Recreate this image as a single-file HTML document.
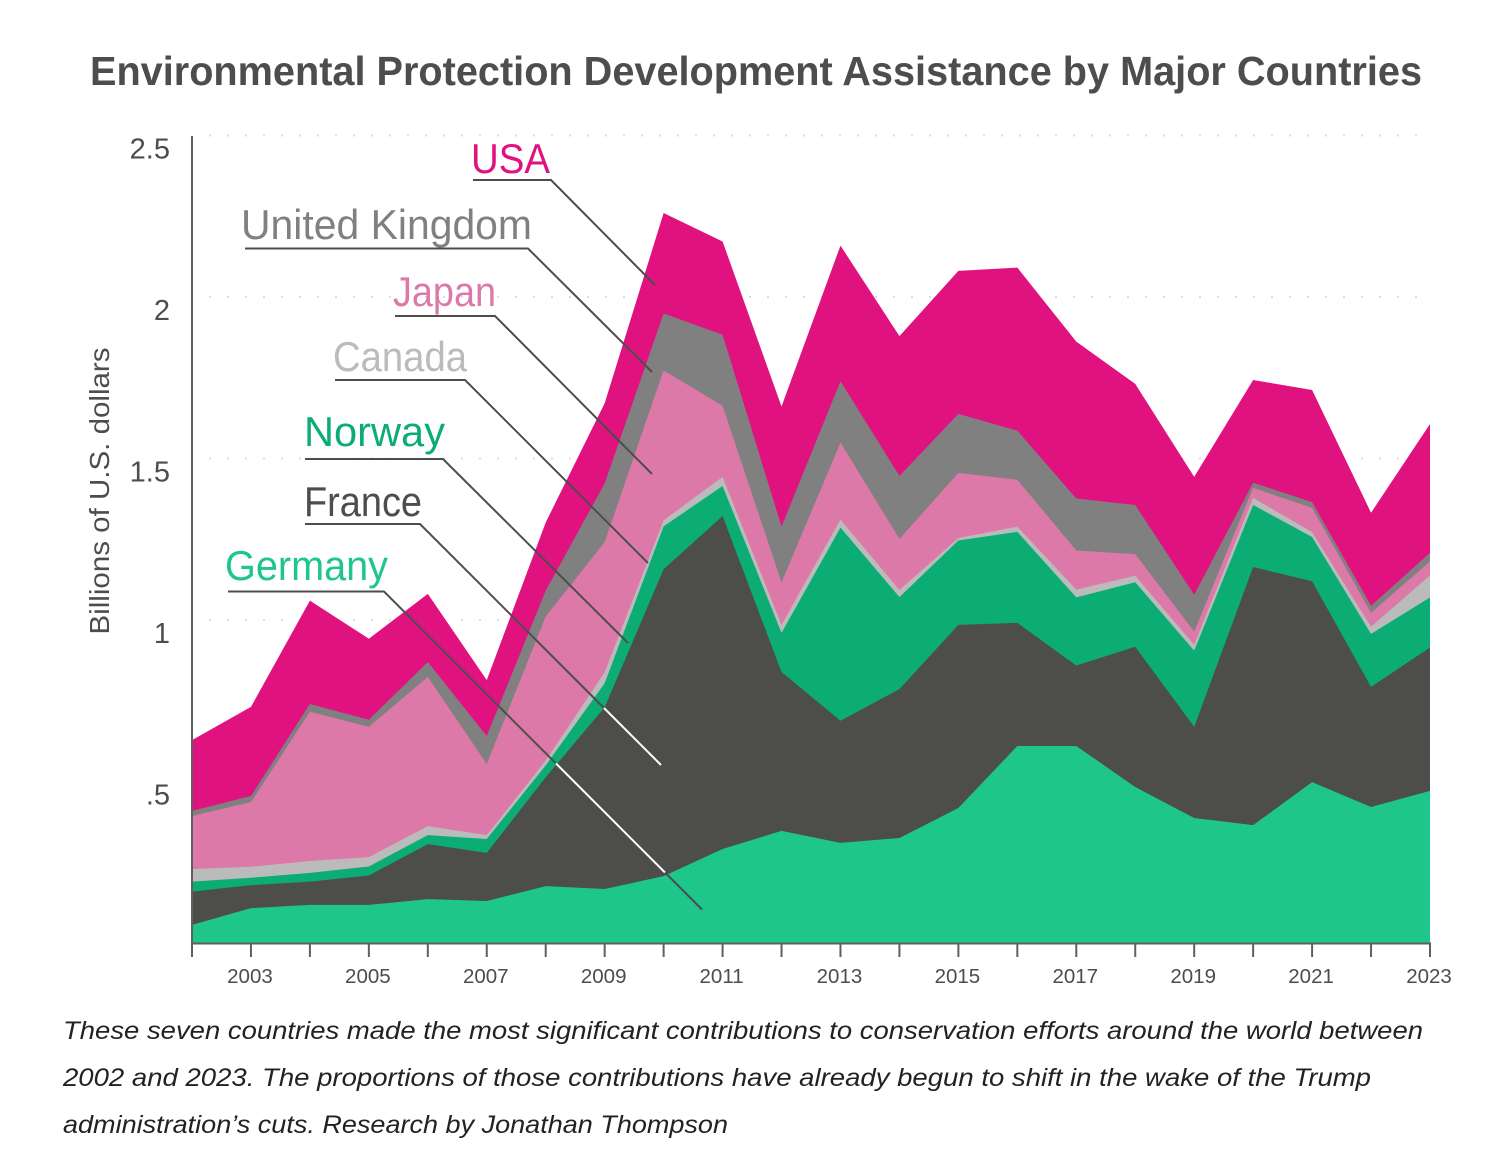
<!DOCTYPE html>
<html lang="en">
<head>
<meta charset="utf-8">
<title>Environmental Protection Development Assistance by Major Countries</title>
<style>
html,body{margin:0;padding:0;background:#fff;}
svg{display:block;font-family:"Liberation Sans",sans-serif;}
</style>
</head>
<body>
<svg id="chart" xmlns="http://www.w3.org/2000/svg" width="1500" height="1166" viewBox="0 0 1500 1166">
  <text x="90" y="85" font-size="41" font-weight="700" fill="#4d4d4d" textLength="1332" lengthAdjust="spacingAndGlyphs">Environmental Protection Development Assistance by Major Countries</text>
  <g id="grid"></g>
  <g id="areas"></g>
  <g id="axes"></g>
  <text transform="translate(109,491) rotate(-90)" text-anchor="middle" font-size="28" fill="#4d4d4d" textLength="287" lengthAdjust="spacingAndGlyphs">Billions of U.S. dollars</text>

  <g fill="none" stroke-width="2">
    <path d="M473 180H551L655 285" stroke="#4d4d4d"/>
    <path d="M245 248.500H528L652 372" stroke="#4d4d4d"/>
    <path d="M395 316H495L652 474" stroke="#4d4d4d"/>
    <path d="M335 380H465L648 563" stroke="#4d4d4d"/>
    <path d="M305 459H443L628 643" stroke="#4d4d4d"/>
    <path d="M305 524H420L604 708" stroke="#4d4d4d"/>
    <path d="M604 708L661 765" stroke="#ffffff"/>
    <path d="M228 591.500H384L556 763.500" stroke="#4d4d4d"/>
    <path d="M556 763.500L665 872.500" stroke="#ffffff"/>
    <path d="M665 872.500L702 909.500" stroke="#4d4d4d"/>
  </g>

  <g font-size="42">
    <text x="471" y="173" fill="#e0127f" textLength="79" lengthAdjust="spacingAndGlyphs">USA</text>
    <text x="241" y="239" fill="#808080" textLength="291" lengthAdjust="spacingAndGlyphs">United Kingdom</text>
    <text x="393" y="306" fill="#dc79a9" textLength="103" lengthAdjust="spacingAndGlyphs">Japan</text>
    <text x="333" y="371" fill="#bbbbbb" textLength="134" lengthAdjust="spacingAndGlyphs">Canada</text>
    <text x="304" y="446" fill="#0bad75" textLength="141" lengthAdjust="spacingAndGlyphs">Norway</text>
    <text x="304" y="516" fill="#4d4d4b" textLength="118" lengthAdjust="spacingAndGlyphs">France</text>
    <text x="225" y="580" fill="#1ec68c" textLength="163" lengthAdjust="spacingAndGlyphs">Germany</text>
  </g>

  <g font-size="25" font-style="italic" fill="#222">
    <text x="63" y="1039" textLength="1360" lengthAdjust="spacingAndGlyphs">These seven countries made the most significant contributions to conservation efforts around the world between</text>
    <text x="63" y="1086" textLength="1308" lengthAdjust="spacingAndGlyphs">2002 and 2023. The proportions of those contributions have already begun to shift in the wake of the Trump</text>
    <text x="63" y="1133" textLength="665" lengthAdjust="spacingAndGlyphs">administration’s cuts. Research by Jonathan Thompson</text>
  </g>
</svg>
<script>
const years = [2002,2003,2004,2005,2006,2007,2008,2009,2010,2011,2012,2013,2014,2015,2016,2017,2018,2019,2020,2021,2022,2023];
const germany = [.056,.108,.118,.118,.136,.130,.176,.167,.207,.291,.347,.310,.325,.418,.610,.610,.483,.387,.365,.498,.421,.471];
const france = [.103,.071,.072,.091,.170,.149,.337,.563,.950,1.031,.492,.378,.461,.567,.381,.249,.434,.282,.799,.622,.372,.444];
const norway = [.031,.023,.027,.028,.028,.043,.037,.074,.133,.093,.121,.598,.285,.261,.282,.211,.200,.236,.192,.137,.164,.155];
const canada = [.039,.034,.037,.029,.028,.012,.015,.034,.019,.028,.025,.025,.022,.008,.016,.024,.020,.018,.022,.015,.022,.068];
const japan = [.164,.200,.462,.403,.462,.220,.446,.403,.464,.220,.131,.238,.158,.201,.145,.121,.067,.041,.031,.075,.043,.043];
const uk = [.016,.019,.024,.022,.046,.087,.080,.182,.176,.220,.173,.190,.195,.183,.152,.161,.152,.114,.016,.018,.022,.027];
const usa = [.219,.276,.320,.251,.211,.173,.211,.248,.311,.289,.372,.420,.433,.443,.505,.486,.375,.365,.318,.347,.288,.399];
const yTickValues = [0.5,1,1.5,2,2.5];
const yTickLabels = [".5","1","1.5","2","2.5"];
const xTickLabels = ["2003","2005","2007","2009","2011","2013","2015","2017","2019","2021","2023"];

const NS = "http://www.w3.org/2000/svg";
const X0 = 192, X1 = 1430, Y0 = 943, PX_PER_UNIT = 323;
const xScale = function (year) { return X0 + (year - years[0]) * (X1 - X0) / (years[years.length - 1] - years[0]); };
const yScale = function (value) { return Y0 - value * PX_PER_UNIT; };

function make(tag, parent) {
  const el = document.createElementNS(NS, tag);
  parent.appendChild(el);
  return el;
}

const grid = document.getElementById("grid");
yTickValues.forEach(function (v) {
  const line = make("line", grid);
  
  
  line.setAttribute("x1", 209);
  line.setAttribute("x2", X1);
  line.setAttribute("y1", yScale(v));
  line.setAttribute("y2", yScale(v));
  line.setAttribute("stroke", "#dddddd");
  line.setAttribute("stroke-width", 2);
  line.setAttribute("stroke-dasharray", "2 16");
});

const seriesList = [
  { key: "germany", values: germany, color: "#1ec68c" },
  { key: "france", values: france, color: "#4d4d4b" },
  { key: "norway", values: norway, color: "#0bad75" },
  { key: "canada", values: canada, color: "#bbbbbb" },
  { key: "japan", values: japan, color: "#dc79a9" },
  { key: "uk", values: uk, color: "#808080" },
  { key: "usa", values: usa, color: "#e0127f" }
];
const running = years.map(function () { return 0; });
seriesList.forEach(function (s) {
  s.tops = s.values.map(function (v, i) { running[i] += v; return running[i]; });
});
const areas = document.getElementById("areas");
seriesList.slice().reverse().forEach(function (s) {
  const path = make("path", areas);
  let d = "M" + xScale(years[0]) + " " + Y0;
  s.tops.forEach(function (t, i) {
    d += "L" + xScale(years[i]).toFixed(2) + " " + yScale(t).toFixed(2);
  });
  d += "L" + xScale(years[years.length - 1]) + " " + Y0 + "Z";
  path.setAttribute("d", d);
  path.setAttribute("fill", s.color);
  
  
});

const axes = document.getElementById("axes");
const yAxis = make("line", axes);


yAxis.setAttribute("x1", X0);
yAxis.setAttribute("x2", X0);
yAxis.setAttribute("y1", 136);
yAxis.setAttribute("y2", 957);
yAxis.setAttribute("stroke", "#5f5f5f");
yAxis.setAttribute("stroke-width", 2);

const xAxis = make("line", axes);


xAxis.setAttribute("x1", X0);
xAxis.setAttribute("x2", X1 + 1);
xAxis.setAttribute("y1", Y0 + 0.5);
xAxis.setAttribute("y2", Y0 + 0.5);
xAxis.setAttribute("stroke", "#5f5f5f");
xAxis.setAttribute("stroke-width", 2);

years.forEach(function (yr) {
  const tick = make("line", axes);
  
  
  tick.setAttribute("x1", xScale(yr));
  tick.setAttribute("x2", xScale(yr));
  tick.setAttribute("y1", Y0);
  tick.setAttribute("y2", 957);
  tick.setAttribute("stroke", "#5f5f5f");
  tick.setAttribute("stroke-width", 2);
});

xTickLabels.forEach(function (label) {
  const t = make("text", axes);
  
  
  t.setAttribute("x", xScale(Number(label)) - 1);
  t.setAttribute("y", 983);
  t.setAttribute("text-anchor", "middle");
  t.setAttribute("font-size", 20.5);
  t.setAttribute("fill", "#4d4d4d");
  t.textContent = label;
});

yTickValues.forEach(function (v, i) {
  const t = make("text", axes);
  
  
  t.setAttribute("x", 170);
  t.setAttribute("y", yScale(v) + 23);
  t.setAttribute("text-anchor", "end");
  t.setAttribute("font-size", 29);
  t.setAttribute("fill", "#4d4d4d");
  t.textContent = yTickLabels[i];
});
</script>
</body>
</html>
